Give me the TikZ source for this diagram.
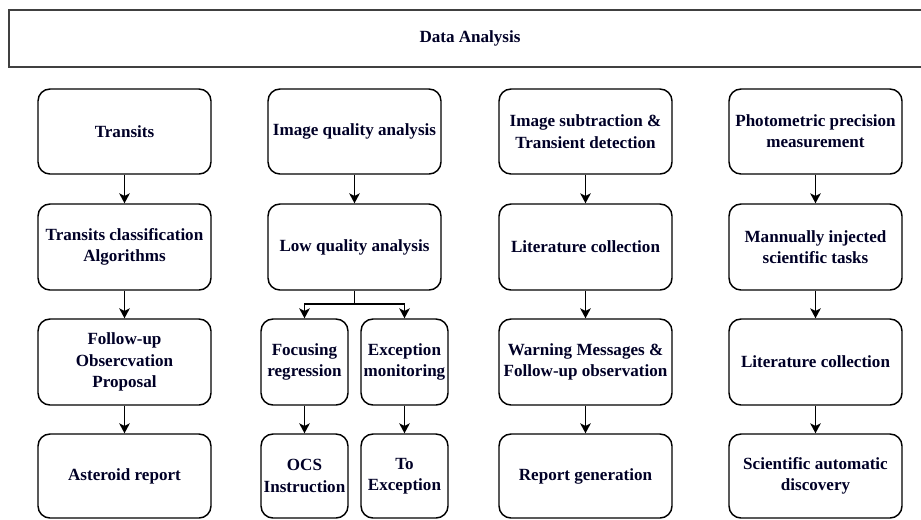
\documentclass[tikz,border=0pt]{standalone}
\usepackage{fontspec}
\setmainfont{Liberation Serif}
\usetikzlibrary{arrows.meta}
\tikzset{
  box/.style={draw=black, line width=1.1pt, rounded corners=9pt, align=center,
    font=\fontsize{12.8pt}{16pt}\selectfont\bfseries, text=black!85!blue, inner sep=0pt},
  arr/.style={draw=black, line width=1pt, -{Stealth[length=7.5pt,width=8pt,inset=2pt]}},
}
\newcommand{\bx}[6]{% name, x1, y1, x2, y2, text
  \node[box, minimum width={(#4-#2)*0.75pt}, minimum height={(#5-#3)*0.75pt}] (#1) at ({(#2+#4)/2},{(#3+#5)/2}) {#6};}
\begin{document}
\begin{tikzpicture}[x=0.75pt,y=-0.75pt]
\useasboundingbox (0,0) rectangle (921,519);
\node[draw=black!75, line width=1.3pt, minimum width=922*0.75pt, minimum height=57*0.75pt,
  font=\fontsize{12.8pt}{16pt}\selectfont\bfseries, text=black!85!blue, inner sep=0pt] (top) at (470,38.5) {Data Analysis};
% column 1
\bx{a1}{38}{89}{211}{174}{Transits}
\bx{a2}{38}{204}{211}{290}{Transits classification\\Algorithms}
\bx{a3}{38}{319}{211}{405}{Follow-up\\Obsercvation\\Proposal}
\bx{a4}{38}{434}{211}{518}{Asteroid report}
% column 2
\bx{b1}{268}{89}{441}{174}{Image quality analysis}
\bx{b2}{268}{204}{441}{290}{Low quality analysis}
\bx{b3}{261}{319}{348}{405}{Focusing\\regression}
\bx{b4}{361}{319}{448}{405}{Exception\\monitoring}
\bx{b5}{261}{434}{348}{518}{OCS\\Instruction}
\bx{b6}{361}{434}{448}{518}{To\\Exception}
% column 3
\bx{c1}{499}{89}{672}{174}{Image subtraction \&\\Transient detection}
\bx{c2}{499}{204}{672}{290}{Literature collection}
\bx{c3}{499}{319}{672}{405}{Warning Messages \&\\Follow-up observation}
\bx{c4}{499}{434}{672}{518}{Report generation}
% column 4
\bx{d1}{729}{89}{902}{174}{Photometric precision\\measurement}
\bx{d2}{729}{204}{902}{290}{Mannually injected\\scientific tasks}
\bx{d3}{729}{319}{902}{405}{Literature collection}
\bx{d4}{729}{434}{902}{518}{Scientific automatic\\discovery}
% arrows
\foreach \u/\v in {a1/a2,a2/a3,a3/a4,b1/b2,b3/b5,b4/b6,c1/c2,c2/c3,c3/c4,d1/d2,d2/d3,d3/d4}
  \draw[arr] (\u) -- (\v);
\coordinate (bj) at (354.5,304);
\draw[line width=1pt] (b2.south) -- (bj);
\draw[arr] (bj) -| (b3.north);
\draw[arr] (bj) -| (b4.north);
\end{tikzpicture}
\end{document}
